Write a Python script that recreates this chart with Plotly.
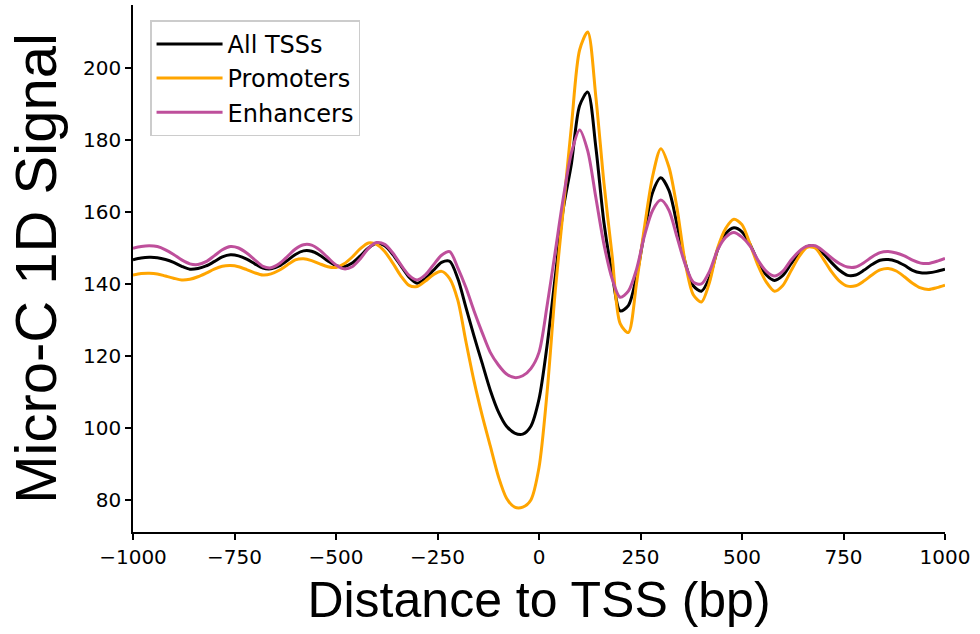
import plotly.graph_objects as go

# Distance to TSS (bp), sampled every 20 bp
distance_bp = list(range(-1000, 1001, 20))

all_tss = [
    146.7, 147.2, 147.4, 147.3, 146.8, 146.0, 144.9, 144.1, 144.3, 145.0,
    146.2, 147.5, 148.1, 147.8, 146.9, 145.6, 144.4, 144.2, 145.0, 146.5,
    148.2, 149.2, 149.1, 148.0, 146.4, 145.1, 144.8, 145.8, 147.8, 150.0,
    151.3, 150.6, 148.2, 145.0, 141.9, 140.2, 141.5, 143.8, 146.0, 146.3,
    141.5, 133.5, 125.5, 118.0, 110.5, 104.5, 100.5, 98.6, 98.3, 100.5,
    108.0, 123.0, 142.0, 161.0, 173.5, 189.5, 193.3, 178.0, 157.0, 143.0,
    132.5, 134.0, 142.0, 154.5, 165.5, 169.5, 166.0, 156.5, 146.0, 139.5,
    138.0, 141.8, 149.5, 154.0, 155.6, 154.5, 151.0, 146.0, 142.5, 141.0,
    142.3, 145.5, 148.5, 150.4, 150.4, 148.5, 146.0, 143.8, 142.4, 142.5,
    143.8, 145.4, 146.6, 146.8, 146.3, 145.2, 143.8, 143.1, 143.1, 143.5,
    144.1,
]

promoters = [
    142.5, 142.9, 143.0, 142.8, 142.2, 141.6, 141.1, 141.3, 142.0, 143.0,
    144.1, 144.9, 145.1, 144.8, 144.0, 143.1, 142.5, 142.8, 143.8, 145.3,
    146.7, 147.0, 146.5, 145.6, 144.8, 144.6, 145.6, 147.5, 149.8, 151.4,
    151.0, 149.0, 145.8, 142.2, 139.6, 139.3, 140.8, 142.6, 143.5, 141.5,
    135.5, 124.0, 113.0, 103.5, 95.0, 86.5, 80.5, 78.0, 78.0, 80.0,
    89.0, 110.0, 138.0, 161.0, 184.0, 205.0, 210.0, 192.0, 168.0, 148.0,
    129.0, 126.5, 140.0, 156.0, 170.0, 177.6, 172.5, 161.0, 146.0, 137.0,
    135.0, 140.5, 150.0, 155.5, 158.0, 156.5, 151.0, 145.0, 140.5, 138.0,
    139.5, 143.5, 147.5, 150.2, 150.0, 147.0, 143.5, 140.8, 139.4, 139.5,
    140.8, 142.5, 143.9, 144.3, 143.6, 142.0, 140.2, 138.9, 138.5, 139.0,
    139.7,
]

enhancers = [
    149.9, 150.4, 150.6, 150.4, 149.5, 148.2, 146.7, 145.6, 145.4, 146.2,
    147.8, 149.5, 150.4, 150.0, 148.6, 146.7, 144.9, 144.5, 145.6, 147.6,
    149.7, 150.9, 150.8, 149.4, 147.3, 145.3, 144.2, 144.8, 147.0, 149.9,
    151.5, 151.0, 148.6, 145.3, 142.4, 141.1, 142.5, 145.3, 148.0, 149.0,
    144.5, 139.0, 132.5, 126.5, 121.0, 117.5, 115.0, 114.0, 114.5, 116.5,
    121.0, 134.0, 149.0, 164.0, 176.5, 182.8, 177.0, 164.0, 151.0, 141.5,
    136.3, 138.0, 144.0, 153.5, 160.5, 163.3, 160.5, 153.0, 145.5, 140.5,
    140.0, 143.5, 149.5, 153.0, 154.3, 153.0, 150.5, 146.5, 143.5, 142.2,
    143.5, 146.5, 149.0, 150.5, 150.6, 149.2, 147.3, 145.7, 144.7, 144.7,
    145.9, 147.5, 148.7, 149.0, 148.6, 147.8, 146.6, 145.8, 145.7, 146.3,
    147.1,
]

series_names = ["All TSSs", "Promoters", "Enhancers"]
series_values = [all_tss, promoters, enhancers]
series_colors = ["#000000", "#FFA500", "#BE4F9B"]

x_tick_vals = [-1000, -750, -500, -250, 0, 250, 500, 750, 1000]
x_tick_text = ["\u22121000", "\u2212750", "\u2212500", "\u2212250", "0", "250", "500", "750", "1000"]
y_tick_vals = [80, 100, 120, 140, 160, 180, 200]
y_tick_text = ["80", "100", "120", "140", "160", "180", "200"]

fig = go.Figure()
for i, (name, vals, col) in enumerate(zip(series_names, series_values, series_colors)):
    fig.add_trace(go.Scatter(
        x=distance_bp, y=vals, mode="lines", name=name, legendgroup=f"g{i}",
        line=dict(color=col, width=3, shape="spline", smoothing=0.8),
    ))

tick_font = dict(family="DejaVu Sans", size=20, color="#000000")

fig.update_layout(
    width=980, height=634,
    margin=dict(l=133, r=35, t=5, b=102),
    paper_bgcolor="white", plot_bgcolor="white",
    showlegend=True,
    legend=dict(
        x=0.021, y=0.971, xanchor="left", yanchor="top",
        bgcolor="rgba(255,255,255,0.8)", bordercolor="#cccccc", borderwidth=1.5,
        font=dict(family="DejaVu Sans", size=24, color="#000000"),
        itemwidth=66, tracegroupgap=0,
    ),
    xaxis=dict(
        range=[-1000, 1000], tickmode="array", tickvals=x_tick_vals, ticktext=x_tick_text,
        showgrid=False, zeroline=False, showline=True, linecolor="black", linewidth=1.5,
        ticks="outside", ticklen=6, tickwidth=1.5, tickcolor="black", tickfont=tick_font,
        title=dict(text="Distance to TSS (bp)",
                   font=dict(family="Liberation Sans, Arial", size=50, color="#000000"),
                   standoff=14),
        automargin=False,
    ),
    yaxis=dict(
        range=[71.1, 217.5], tickmode="array", tickvals=y_tick_vals, ticktext=y_tick_text,
        showgrid=False, zeroline=False, showline=True, linecolor="black", linewidth=1.5,
        ticks="outside", ticklen=6, tickwidth=1.5, tickcolor="black", tickfont=tick_font,
        title=dict(text="Micro-C 1D Signal",
                   font=dict(family="Liberation Sans, Arial", size=58, color="#000000"),
                   standoff=8),
        automargin=False,
    ),
)

fig.write_html("out.html", config={"displayModeBar": False},
               post_script="document.body.style.margin='0';")
